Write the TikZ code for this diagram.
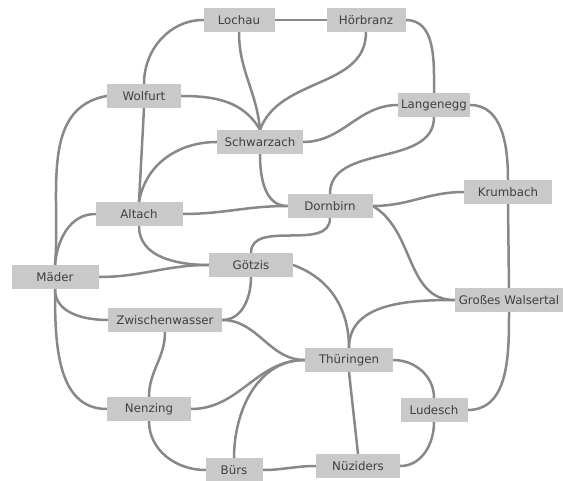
\documentclass[tikz,border=0pt]{standalone}
\usepackage{fontspec}
\setmainfont{DejaVu Sans}
\usetikzlibrary{backgrounds}
\definecolor{boxfill}{HTML}{C9C9C9}
\definecolor{txtcol}{HTML}{404040}
\definecolor{edgecol}{HTML}{888888}
\tikzset{
  town/.style={fill=boxfill, text=txtcol, minimum height=24pt, inner sep=2pt,
    font=\fontsize{11.8}{13}\selectfont},
  link/.style={draw=edgecol, line width=2.5pt, line cap=round},
}
\begin{document}
\begin{tikzpicture}[x=1pt,y=1pt]
\useasboundingbox (0,0) rectangle (563,-481);
\node[town, minimum width=71pt] (lo) at (239,-20) {Lochau};
\node[town, minimum width=79pt] (hb) at (366,-20) {Hörbranz};
\node[town, minimum width=74pt] (wo) at (144,-96) {Wolfurt};
\node[town, minimum width=72pt] (la) at (434,-105) {Langenegg};
\node[town, minimum width=86pt] (sc) at (260,-142) {Schwarzach};
\node[town, minimum width=87pt] (al) at (139,-214) {Altach};
\node[town, minimum width=85pt] (db) at (330,-206) {Dornbirn};
\node[town, minimum width=88pt] (kr) at (508,-192) {Krumbach};
\node[town, minimum width=87pt] (ma) at (55,-277) {Mäder};
\node[town, minimum width=84pt] (gz) at (251,-265) {Götzis};
\node[town, minimum width=114pt] (zw) at (165,-320) {Zwischenwasser};
\node[town, minimum width=109pt] (gw) at (509,-300) {Großes Walsertal};
\node[town, minimum width=88pt] (th) at (349,-360) {Thüringen};
\node[town, minimum width=84pt] (ne) at (149,-409) {Nenzing};
\node[town, minimum width=67pt] (lu) at (434,-410) {Ludesch};
\node[town, minimum width=57pt] (bu) at (234,-470) {Bürs};
\node[town, minimum width=84pt] (nu) at (358,-466) {Nüziders};
\begin{scope}[on background layer]
\draw[link] (lo.east) -- (hb.west);
\draw[link] (lo.west) to[out=180,in=90] (wo.north);
\draw[link] (lo.south) to[out=-90,in=95] (sc.north);
\draw[link] (hb.south) to[out=-90,in=70] (sc.north);
\draw[link] (wo.east) to[out=0,in=120] (sc.north);
\draw[link] (hb.east) to[out=0,in=90] (la.north);
\draw[link] (la.west) to[out=180,in=0] (sc.east);
\draw[link] (la.south) to[out=-90,in=90] (db.north);
\draw[link] (la.east) to[out=0,in=90] (kr.north);
\draw[link] (kr.south) -- (gw.north);
\draw[link] (gw.south) to[out=-90,in=0] (lu.east);
\draw[link] (wo.west) to[out=190,in=85] (ma.north);
\draw[link] (wo.south) -- (al.north);
\draw[link] (sc.west) to[out=180,in=80] (al.north);
\draw[link] (sc.south) to[out=-90,in=180] (db.west);
\draw[link] (al.east) to[out=0,in=180] (db.west);
\draw[link] (al.west) to[out=180,in=85] (ma.north);
\draw[link] (al.south) to[out=-90,in=180] (gz.west);
\draw[link] (ma.east) to[out=0,in=180] (gz.west);
\draw[link] (ma.south) to[out=-90,in=180] (zw.west);
\draw[link] (ma.south) to[out=-90,in=180] (ne.west);
\draw[link] (db.south) to[out=-90,in=90] (gz.north);
\draw[link] (db.east) to[out=0,in=180] (kr.west);
\draw[link] (db.east) to[out=-30,in=180] (gw.west);
\draw[link] (gz.east) to[out=-20,in=90] (th.north);
\draw[link] (gz.south) to[out=-90,in=0] (zw.east);
\draw[link] (gw.west) to[out=180,in=90] (th.north);
\draw[link] (zw.east) to[out=0,in=180] (th.west);
\draw[link] (zw.south) to[out=-90,in=90] (ne.north);
\draw[link] (ne.east) to[out=0,in=180] (th.west);
\draw[link] (ne.south) to[out=-90,in=180] (bu.west);
\draw[link] (bu.north) to[out=90,in=180] (th.west);
\draw[link] (bu.east) to[out=0,in=180] (nu.west);
\draw[link] (th.south) -- (nu.north);
\draw[link] (th.east) to[out=0,in=90] (lu.north);
\draw[link] (lu.south) to[out=-90,in=0] (nu.east);
\end{scope}
\end{tikzpicture}
\end{document}
